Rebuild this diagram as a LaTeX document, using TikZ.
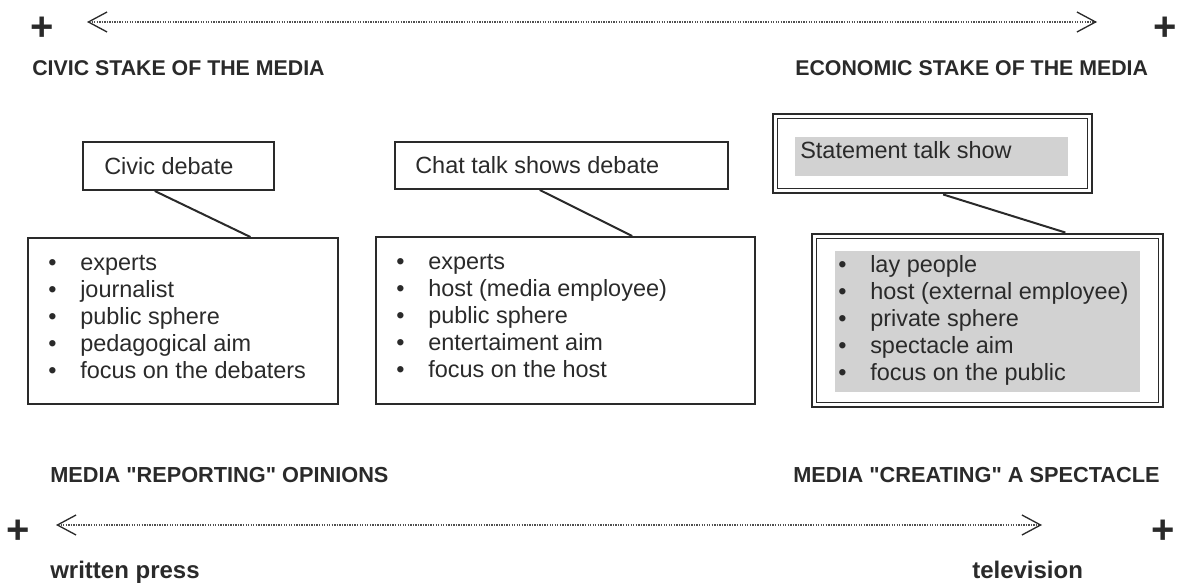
\documentclass[tikz,border=0pt]{standalone}
\usepackage{fontspec}
\setmainfont{Liberation Sans}
\newfontfamily\qfont{Liberation Sans}[Ligatures=TeXOff]
\usetikzlibrary{arrows.meta,fit,calc}
\definecolor{ink}{HTML}{2A2A2A}
\definecolor{greyfill}{HTML}{D2D2D2}
\definecolor{dotc}{HTML}{505050}
\newcommand\blt{\makebox[24pt][l]{•}}
\newcommand\fstrut{\rule{0pt}{15pt}}
\newcommand\qq{{\qfont\bfseries"}}
\begin{document}
\begin{tikzpicture}[x=0.75pt,y=-0.75pt,
  every node/.style={inner sep=0pt, text=ink},
  head/.style={font=\fontsize{16}{18}\selectfont\bfseries},
  headb/.style={font=\fontsize{16.3}{18}\selectfont\bfseries},
  foot/.style={font=\fontsize{18}{20}\selectfont\bfseries},
  plus/.style={font=\fontsize{30}{32}\selectfont\bfseries},
  body/.style={font=\fontsize{17.6}{20.25}\selectfont},
  list/.style={font=\fontsize{17.6}{20.25}\selectfont, align=left, anchor=north west},
  frame/.style={draw=ink, line width=1.5pt, fit={#1}, inner sep=0pt},
  dframe/.style={draw=ink, line width=2.2pt, fit={#1}, inner sep=0pt},
  link/.style={draw=ink, line width=1.5pt},
  axis/.style={draw=dotc, line width=1pt, dash pattern=on 1pt off 0.9pt,
    {Straight Barb[length=14pt,width=15pt,line width=1pt,color=ink]}-{Straight Barb[length=14pt,width=15pt,line width=1pt,color=ink]}}
]
\useasboundingbox (0,0) rectangle (1184,584);

% top axis
\node[plus] (p1) at (42,29) {+};
\node[plus] (p2) at (1165,29) {+};
\coordinate (tl) at (87,22);
\coordinate (tr) at (1097,22);
\draw[axis] (tl) -- (tr);
\node[head, anchor=base west] (civic) at (32,76) {CIVIC STAKE OF THE MEDIA};
\node[head, anchor=base west] (econ) at (795,76) {ECONOMIC STAKE OF THE MEDIA};

% column 1
\node[frame={(83,142) (274,190)}] (b1s) {};
\node[body, anchor=base west] (t1) at (104,175) {Civic debate};
\node[frame={(28,238) (338,404)}] (b1) {};
\node[list] (l1) at (48,250) {\fstrut\blt experts\\\blt journalist\\\blt public sphere\\\blt pedagogical aim\\\blt focus on the debaters};
\draw[link] ($(b1s.south west)!0.377!(b1s.south east)$) -- ($(b1.north west)!0.716!(b1.north east)$);

% column 2
\node[frame={(395,142) (728,189)}] (b2s) {};
\node[body, anchor=base west] (t2) at (415,174) {Chat talk shows debate};
\node[frame={(376,237) (755,404)}] (b2) {};
\node[list] (l2) at (396,249) {\fstrut\blt experts\\\blt host (media employee)\\\blt public sphere\\\blt entertaiment aim\\\blt focus on the host};
\draw[link] ($(b2s.south west)!0.435!(b2s.south east)$) -- ($(b2.north west)!0.675!(b2.north east)$);

% column 3
\fill[greyfill] (795,137) rectangle (1068,176);
\node[dframe={(773,114) (1092,193)}] (b3s) {};
\draw[ink, line width=1.4pt] ($(b3s.north west)+(6,6)$) rectangle ($(b3s.south east)+(-6,-6)$);
\node[body, anchor=base west] (t3) at (800,159) {Statement talk show};
\fill[greyfill] (835,251) rectangle (1140,392);
\node[dframe={(812,234) (1163,407)}] (b3) {};
\draw[ink, line width=1.4pt] ($(b3.north west)+(6,6)$) rectangle ($(b3.south east)+(-6,-6)$);
\node[list] (l3) at (838,252) {\fstrut\blt lay people\\\blt host (external employee)\\\blt private sphere\\\blt spectacle aim\\\blt focus on the public};
\draw[link] ($(b3s.south west)!0.533!(b3s.south east)$) -- ($(b3.north west)!0.72!(b3.north east)$);

% bottom axis
\node[headb, anchor=base west] (rep) at (50,482) {MEDIA \qq REPORTING\qq{} OPINIONS};
\node[headb, anchor=base west] (cre) at (793,482) {MEDIA \qq CREATING\qq{} A SPECTACLE};
\node[plus] (p3) at (18,532) {+};
\node[plus] (p4) at (1163,532) {+};
\coordinate (bl) at (56,525);
\coordinate (br) at (1042,525);
\draw[axis] (bl) -- (br);
\node[foot, anchor=base west] (press) at (50,578) {written press};
\node[foot, anchor=base west] (tv) at (972,578) {television};
\end{tikzpicture}
\end{document}
